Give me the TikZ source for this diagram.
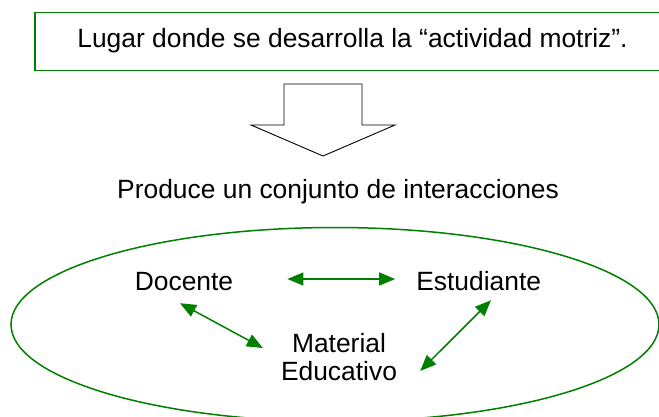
\documentclass[tikz,border=0pt]{standalone}
\usepackage{fontspec}
\setmainfont{Liberation Sans}
\usetikzlibrary{arrows.meta}
\definecolor{dgreen}{RGB}{0,128,0}
\tikzset{
  lbl/.style={inner sep=0pt, font=\fontsize{26.4}{28}\selectfont, text height=19pt, text depth=0pt},
  mlbl/.style={inner sep=0pt, font=\fontsize{26.4}{28}\selectfont, align=center},
  garrow/.style={draw=dgreen, line width=1.5pt, {Triangle[length=16pt,width=13pt]}-{Triangle[length=16pt,width=13pt]}},
  gframe/.style={draw=dgreen, line width=1.6pt},
  hollow/.style={draw=black, line width=0.9pt, line join=miter}
}
\begin{document}
\begin{tikzpicture}[x=1pt,y=-1pt]
\clip (0,0) rectangle (659,416);
% top box
\draw[gframe] (35,12.5) rectangle (700,70.5);
\node[lbl, anchor=base] (title) at (352.5,47) {Lugar donde se desarrolla la “actividad motriz”.};
% hollow arrow
\draw[hollow] (284,84) -- (362,84) -- (362,125) -- (395,125) -- (323,156) -- (251,125) -- (284,125) -- cycle;
\node[lbl, anchor=base west] (prod) at (117,198) {Produce un conjunto de interacciones};
% ellipse
\draw[gframe, line width=1.5pt] (335,324.5) ellipse [x radius=324, y radius=97];
% nodes
\node[lbl, anchor=base] (doc) at (184,290) {Docente};
\node[lbl, anchor=base] (est) at (478.7,290) {Estudiante};
\node[mlbl] (mat) at (339,357.5) {Material\\Educativo};
% connectors
\draw[garrow] ([shift={(54,-1.5)}]doc.east) -- ([shift={(-21,-1.5)}]est.west);
\draw[garrow] ([shift={(-4,13)}]doc.south) -- ([shift={(-18,-9.5)}]mat.west);
\draw[garrow] ([shift={(12.3,10)}]est.south) -- ([shift={(23,13.5)}]mat.east);
\end{tikzpicture}
\end{document}
